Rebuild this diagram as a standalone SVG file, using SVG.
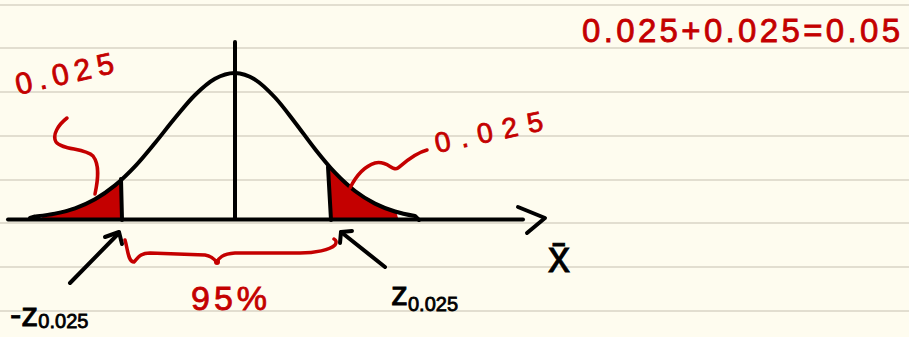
<svg xmlns="http://www.w3.org/2000/svg" width="909" height="337" viewBox="0 0 909 337">
<style>
.rule{stroke:#e2ded0;stroke-width:2}
.ink{fill:none;stroke:#000;stroke-width:4;stroke-linecap:round;stroke-linejoin:round}
.red{fill:none;stroke:#c40000;stroke-width:3.5;stroke-linecap:round;stroke-linejoin:round}
.shade{fill:#c40000;stroke:#c40000;stroke-width:2;stroke-linejoin:round}
.rt{font-family:"Liberation Sans",Arial,sans-serif;fill:#c40000;stroke:#c40000;stroke-width:0.8}
.bt{font-family:"Liberation Sans",Arial,sans-serif;fill:#000;stroke:#000;stroke-width:0.8}
</style>
<rect width="909" height="337" fill="#fefcef"/>
<g id="paper">
<line class="rule" x1="0" y1="5" x2="909" y2="5"/>
<line class="rule" x1="0" y1="48" x2="909" y2="48"/>
<line class="rule" x1="0" y1="92" x2="909" y2="92"/>
<line class="rule" x1="0" y1="136" x2="909" y2="136"/>
<line class="rule" x1="0" y1="180" x2="909" y2="180"/>
<line class="rule" x1="0" y1="223" x2="909" y2="223"/>
<line class="rule" x1="0" y1="267" x2="909" y2="267"/>
<line class="rule" x1="0" y1="311" x2="909" y2="311"/>
</g>
<g id="tails">
<polygon class="shade" points="43,218 55,213.6 75,208.3 95,199.2 115,185.4 120,181 122,219"/>
<polygon class="shade" points="328,167 335,172.7 355,191 375,203.6 395,211.5 397,218 331,219"/>
</g>
<g id="curve">
<line class="ink" x1="8" y1="219.5" x2="523" y2="219.5"/>
<polyline class="ink" points="518,207 545,218 527,233"/>
<line class="ink" x1="235" y1="42" x2="235" y2="219"/>
<path class="ink" d="M30,218 L35,216.5 C41.7,215.7 48.3,215 55,213.6 C61.7,212.2 68.3,210.7 75,208.3 C81.7,205.9 88.3,203 95,199.2 C101.7,195.4 108.3,190.9 115,185.4 C121.7,179.9 128.3,173.5 135,166.4 C141.7,159.3 148.3,151.1 155,143 C161.7,134.9 168.3,126 175,118 C181.7,110 188.3,101.5 195,95 C201.7,88.5 208.3,82.5 215,78.8 C221.7,75.1 228.3,72.9 235,73 C241.7,73.1 248.3,75.5 255,79.6 C261.7,83.7 268.3,90.4 275,97.5 C281.7,104.6 288.3,113.8 295,122.4 C301.7,131 308.3,140.6 315,149 C321.7,157.4 328.3,165.7 335,172.7 C341.7,179.7 348.3,185.9 355,191 C361.7,196.2 368.3,200.2 375,203.6 C381.7,207 388.3,209.4 395,211.5 C401.7,213.6 408.3,214.8 415,216 L419,220"/>
<line class="ink" x1="121" y1="179" x2="122" y2="220"/>
<line class="ink" x1="328" y1="167" x2="331" y2="220"/>
</g>
<g id="connectors">
<path class="red" d="M67,118 C58,125 52,135 56,142 C62,150 85,148 93,156 C100,165 98,180 95,194"/>
<path class="red" d="M427,150 C415,153 405,162 398,168 C392,172 388,160 375,163 C362,167 355,178 350,188"/>
<path class="red" d="M125,240 C128,250 128,262 134,262 C138,258 140,253 150,253 L205,255 C212,256 215,260 217,262 C219,258 222,254 235,253 L300,253 C315,253 330,250 335,245 C337,242 336,240 334,239"/>
<circle cx="217" cy="262" r="3" fill="#c40000"/>
<line class="ink" x1="70" y1="283" x2="119" y2="233"/>
<polyline class="ink" points="105,237 119,232 122,244"/>
<line class="ink" x1="385" y1="267" x2="341" y2="232"/>
<polyline class="ink" points="352,231 341,232 340,243"/>
</g>
<g id="labels">
<text class="rt" x="18" y="95" font-size="30" textLength="100" lengthAdjust="spacing" transform="rotate(-13 18 95)">0.025</text>
<text class="rt" x="437" y="153" font-size="28" textLength="110" lengthAdjust="spacing" transform="rotate(-12 437 153)">0.025</text>
<text class="rt" x="582" y="42" font-size="33" textLength="318" lengthAdjust="spacing">0.025+0.025=0.05</text>
<text class="rt" x="191" y="310" font-size="34" textLength="76" lengthAdjust="spacing">95%</text>
<text class="bt" x="548" y="272" font-size="44">x̄</text>
<text class="bt" x="10" y="326" font-size="34">-z<tspan font-size="20" dy="2">0.025</tspan></text>
<text class="bt" x="391" y="305" font-size="34">z<tspan font-size="20" dy="6">0.025</tspan></text>
</g>
</svg>
